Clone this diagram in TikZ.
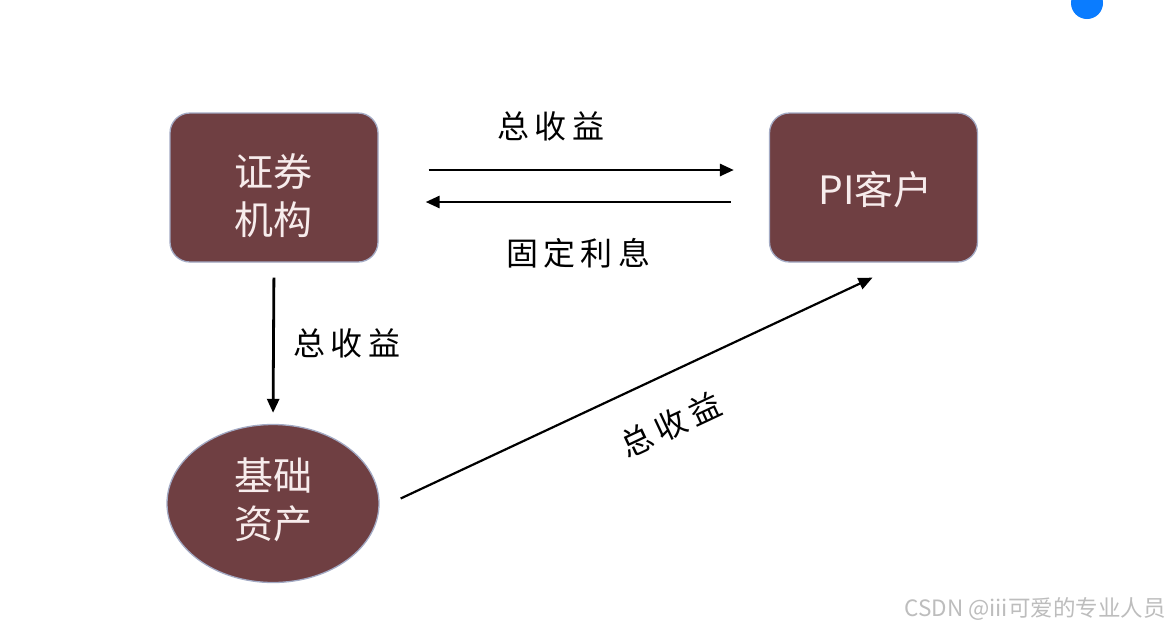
\documentclass[tikz,border=0pt]{standalone}
\usepackage{fontspec}
\setmainfont{Noto Sans CJK SC}
\usetikzlibrary{arrows.meta,shapes.geometric,calc}
\definecolor{boxfill}{HTML}{6F3F42}
\definecolor{boxedge}{HTML}{A3AAC4}
\definecolor{boxtext}{HTML}{F7ECEC}
\definecolor{dotblue}{HTML}{0A7CFF}
\definecolor{wmgrey}{HTML}{BDBDBD}
\begin{document}
\begin{tikzpicture}[x=1pt,y=-1pt,
  entity/.style={draw=boxedge,line width=1.3pt,fill=boxfill,inner sep=0pt},
  roundbox/.style={entity,rectangle,rounded corners=20pt,minimum width=208pt,minimum height=149pt},
  ovalnode/.style={entity,ellipse,minimum width=212pt,minimum height=158pt},
  entitytext/.style={text=boxtext,font=\fontsize{39}{48}\selectfont,align=center,inner sep=0pt},
  flow/.style={line width=2.8pt,-{Triangle[length=14pt,width=12pt]}},
  lbl/.style={font=\fontsize{32}{36}\selectfont,text=black,inner sep=0pt}]
\useasboundingbox (0,0) rectangle (1170,630);
\fill[white] (0,0) rectangle (1170,630);
\fill[dotblue] (1087,3) circle (16);
\node[roundbox] (broker) at (274,187.5) {};
\node[roundbox] (client) at (873.5,187.5) {};
\node[ovalnode] (asset) at (273,503.5) {};
\node[entitytext] (brokertext) at ($(broker.center)+(-1,8)$) {证券\\机构};
\node[entitytext] (clienttext) at ($(client.center)+(2,2)$) {PI客户};
\node[entitytext] (assettext) at ($(asset.center)+(0,-4)$) {基础\\资产};
\draw[flow,shorten <=50pt,shorten >=35pt] ([yshift=17.5pt]broker.east) -- ([yshift=17.5pt]client.west);
\draw[flow,shorten <=38pt,shorten >=47pt] ([yshift=-14.5pt]client.west) -- ([yshift=-14.5pt]broker.east);
\draw[flow,shorten <=15pt,shorten >=11pt] (broker.south) -- (asset.north);
\coordinate (diagstart) at ($(asset.east)+(21,-5)$);
\coordinate (diagend) at ($(client.south)+(-1,15)$);
\draw[flow,line width=2.2pt] (diagstart) -- (diagend);
\node[lbl] (l1) at (551,126) {总\,收\,益};
\node[lbl] (l2) at (578,253) {固\,定\,利\,息};
\node[lbl] (l3) at (347,343) {总\,收\,益};
\node[lbl,rotate=25.1] (l4) at (671,425) {总\,收\,益};
\node[font=\fontsize{22.5}{26}\selectfont,text=wmgrey,inner sep=0pt] (wm) at (1035,609) {CSDN @iii可爱的专业人员};
\end{tikzpicture}
\end{document}
